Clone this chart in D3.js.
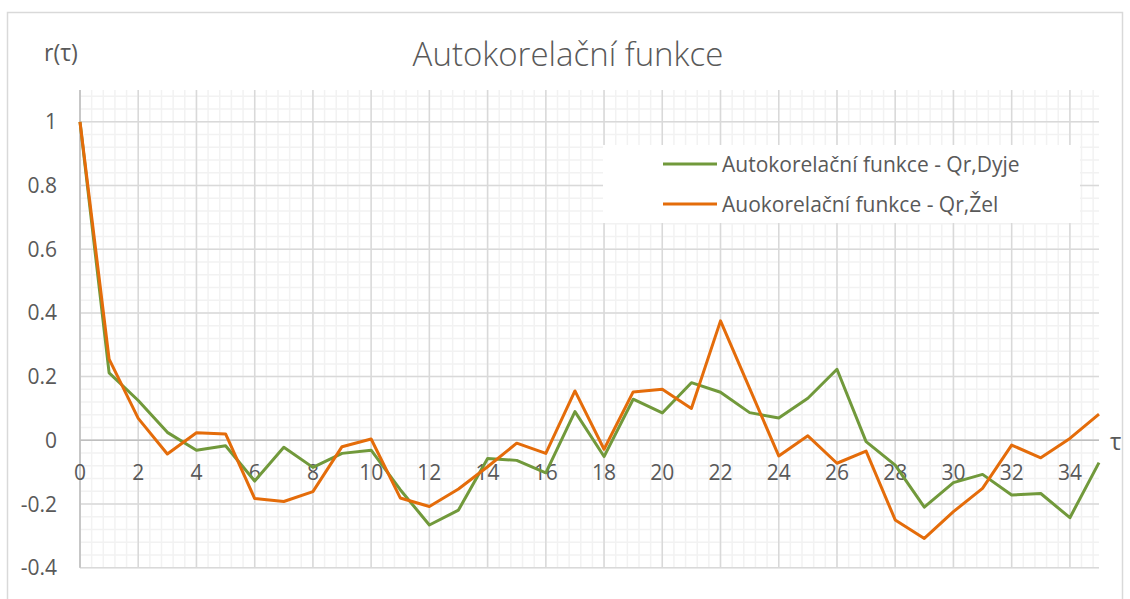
<!DOCTYPE html>
<html>
<head>
<meta charset="utf-8">
<script src="https://cdn.jsdelivr.net/npm/d3@7"></script>
<style>
  body { margin: 0; background: #fff; }
  text { font-family: "Open Sans", sans-serif; fill: #595959; }
</style>
</head>
<body>
<svg id="chart"></svg>
<script>
var lags = d3.range(0, 36);
var dyje = [1, 0.212, 0.125, 0.025, -0.031, -0.017, -0.128, -0.022, -0.085, -0.041, -0.031, -0.155,
  -0.266, -0.219, -0.057, -0.063, -0.102, 0.09, -0.051, 0.129, 0.086, 0.181, 0.151, 0.087,
  0.07, 0.132, 0.223, -0.004, -0.078, -0.21, -0.133, -0.107, -0.172, -0.167, -0.243, -0.07];
var zel = [1, 0.255, 0.069, -0.043, 0.024, 0.02, -0.183, -0.192, -0.161, -0.02, 0.004, -0.181,
  -0.208, -0.153, -0.083, -0.009, -0.041, 0.155, -0.028, 0.152, 0.16, 0.1, 0.375, 0.163,
  -0.049, 0.014, -0.072, -0.034, -0.25, -0.308, -0.224, -0.151, -0.015, -0.055, 0.006, 0.082];
var seriesNames = ["Autokorelační funkce - Qr,Dyje", "Auokorelační funkce - Qr,Žel"];
var seriesColors = ["#71993b", "#e46c0a"];
var xTicks = d3.range(0, 35, 2);
var yTicks = [-0.4, -0.2, 0, 0.2, 0.4, 0.6, 0.8, 1];

var width = 1130, height = 599;
var svg = d3.select("#chart").attr("width", width).attr("height", height);

var x = d3.scaleLinear().domain([0, 35]).range([80, 1099]);
var y = d3.scaleLinear().domain([-0.4, 1.1]).range([567.7, 90]);

// chart frame
svg.append("rect")
  .attr("x", 7.5).attr("y", 12.5)
  .attr("width", 1115).attr("height", 600)
  .attr("fill", "#fff").attr("stroke", "#d9d9d9").attr("stroke-width", 1.5);

// minor grid
var grid = svg.append("g");
var xMinor = d3.range(0, 35.001, 0.4);
var yMinor = d3.range(-0.4, 1.1001, 0.04);
grid.selectAll("line.xm").data(xMinor).enter().append("line")
  .attr("x1", function (d) { return x(d); }).attr("x2", function (d) { return x(d); })
  .attr("y1", y(1.1)).attr("y2", y(-0.4))
  .attr("stroke", "#f2f2f2").attr("stroke-width", 1.5);
grid.selectAll("line.ym").data(yMinor).enter().append("line")
  .attr("y1", function (d) { return y(d); }).attr("y2", function (d) { return y(d); })
  .attr("x1", x(0)).attr("x2", x(35))
  .attr("stroke", "#f2f2f2").attr("stroke-width", 1.5);

// major grid
grid.selectAll("line.xM").data(xTicks).enter().append("line")
  .attr("x1", function (d) { return x(d); }).attr("x2", function (d) { return x(d); })
  .attr("y1", y(1.1)).attr("y2", y(-0.4))
  .attr("stroke", "#d9d9d9").attr("stroke-width", 1.5);
grid.selectAll("line.yM").data(yTicks).enter().append("line")
  .attr("y1", function (d) { return y(d); }).attr("y2", function (d) { return y(d); })
  .attr("x1", x(0)).attr("x2", x(35))
  .attr("stroke", "#d9d9d9").attr("stroke-width", 1.5);

// axis lines
svg.append("line")
  .attr("x1", x(0)).attr("x2", x(35)).attr("y1", y(0)).attr("y2", y(0))
  .attr("stroke", "#bfbfbf").attr("stroke-width", 1.5);
svg.append("line")
  .attr("x1", x(0)).attr("x2", x(0)).attr("y1", y(1.1)).attr("y2", y(-0.4))
  .attr("stroke", "#bfbfbf").attr("stroke-width", 1.5);

// tick labels
svg.append("g").selectAll("text").data(yTicks).enter().append("text")
  .attr("x", 57).attr("y", function (d) { return y(d); })
  .attr("dy", "0.36em")
  .attr("text-anchor", "end")
  .attr("font-size", 21)
  .text(function (d) { return String(+d.toFixed(1)); });

svg.append("g").selectAll("text").data(xTicks).enter().append("text")
  .attr("x", function (d) { return x(d); }).attr("y", 480)
  .attr("text-anchor", "middle")
  .attr("font-size", 21)
  .text(function (d) { return d; });

// titles
svg.append("text")
  .attr("x", 568).attr("y", 66)
  .attr("text-anchor", "middle")
  .attr("font-size", 33).attr("font-weight", 300)
  .text("Autokorelační funkce");
svg.append("text")
  .attr("x", 44).attr("y", 61)
  .attr("font-size", 23)
  .text("r(τ)");
svg.append("text")
  .attr("x", 1110).attr("y", 441)
  .attr("dy", "0.36em")
  .attr("font-size", 24)
  .text("τ");

// series
var line = d3.line()
  .x(function (d, i) { return x(lags[i]); })
  .y(function (d) { return y(d); });
[dyje, zel].forEach(function (s, i) {
  svg.append("path")
    .datum(s)
    .attr("d", line)
    .attr("fill", "none")
    .attr("stroke", seriesColors[i])
    .attr("stroke-width", 3)
    .attr("stroke-linejoin", "round");
});

// legend
var legend = svg.append("g").attr("transform", "translate(603,145)");
legend.append("rect")
  .attr("width", 477).attr("height", 78)
  .attr("fill", "#fff");
var items = legend.selectAll("g").data(seriesNames).enter().append("g")
  .attr("transform", function (d, i) { return "translate(0," + (19 + i * 40) + ")"; });
items.append("line")
  .attr("x1", 60).attr("x2", 114)
  .attr("stroke", function (d, i) { return seriesColors[i]; })
  .attr("stroke-width", 3);
items.append("text")
  .attr("x", 119).attr("dy", "0.36em")
  .attr("font-size", 21)
  .text(function (d) { return d; });
</script>
</body>
</html>
